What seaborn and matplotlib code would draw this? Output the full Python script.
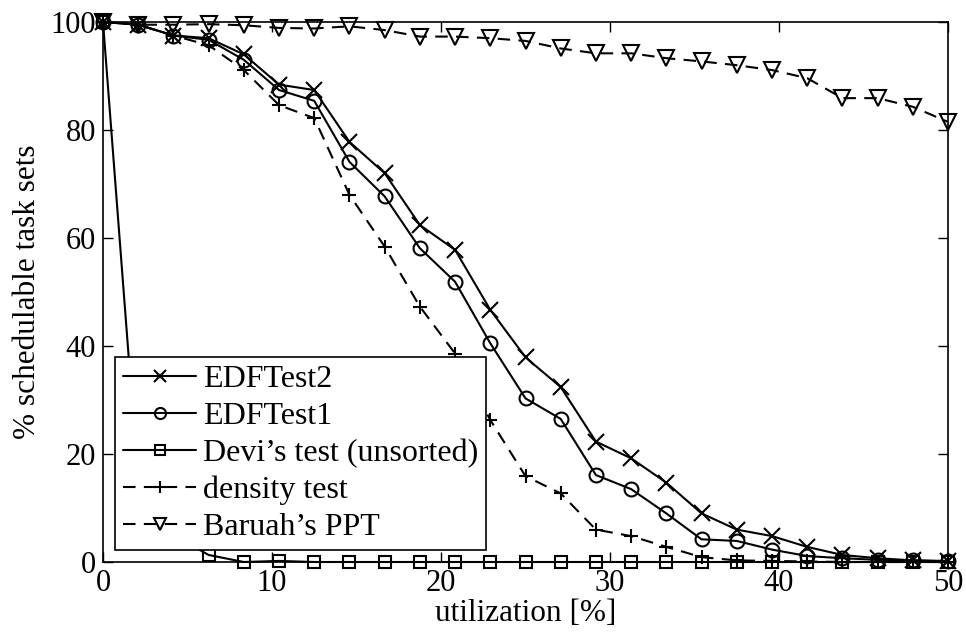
import numpy as np
import pandas as pd
import matplotlib
matplotlib.use("Agg")
import matplotlib.pyplot as plt
import seaborn as sns

utilization = [0, 2.083, 4.167, 6.25, 8.333, 10.417, 12.5, 14.583, 16.667, 18.75,
               20.833, 22.917, 25, 27.083, 29.167, 31.25, 33.333, 35.417, 37.5,
               39.583, 41.667, 43.75, 45.833, 47.917, 50]

edf_test2 = [100, 99.5, 97.5, 97, 94, 88.4, 87.4, 77.8, 72, 62.4,
             57.8, 46.7, 37.9, 32.4, 22.3, 19.2, 14.7, 9.0, 6.0,
             4.8, 2.8, 1.3, 0.7, 0.3, 0.2]
edf_test1 = [100, 99.5, 97.5, 96.7, 93, 87.4, 85.4, 74.1, 67.7, 58.1,
             51.9, 40.5, 30.3, 26.5, 16.1, 13.5, 9.0, 4.2, 3.9,
             2.3, 1.1, 0.7, 0.4, 0.3, 0.1]
devi_test = [100, 15, 5, 1.3, 0, 0.2, 0, 0, 0, 0,
             0, 0, 0, 0, 0, 0, 0, 0, 0,
             0, 0, 0, 0, 0, 0]
density_test = [100, 99.5, 97.5, 95.7, 91.1, 84.6, 82.2, 68, 58.4, 47.3,
                38.6, 26.3, 15.9, 12.7, 6.0, 4.8, 2.8, 0.9, 0.3,
                0.2, 0.1, 0, 0, 0, 0]
baruah_ppt = [100, 99.5, 99.5, 99.6, 99.4, 98.9, 98.8, 99.2, 98.5, 97.3,
              97.3, 97.0, 96.5, 95.1, 94.2, 94.2, 93.3, 92.7, 92.0,
              91.1, 89.6, 85.9, 85.9, 84.3, 81.5]

labels = ["EDFTest2", "EDFTest1", "Devi\u2019s test (unsorted)", "density test", "Baruah\u2019s PPT"]
series = [edf_test2, edf_test1, devi_test, density_test, baruah_ppt]
markers = ["x", "o", "s", "+", "v"]
dashed = [False, False, False, True, True]

sns.set_style("ticks")
plt.rcParams["font.family"] = ["Liberation Serif", "DejaVu Serif"]
plt.rcParams["text.color"] = "black"
plt.rcParams["axes.labelcolor"] = "black"
plt.rcParams["xtick.color"] = "black"
plt.rcParams["ytick.color"] = "black"
plt.rcParams["xtick.direction"] = "in"
plt.rcParams["ytick.direction"] = "in"
plt.rcParams["xtick.top"] = True
plt.rcParams["ytick.right"] = True

fig = plt.figure(figsize=(9.66, 6.37), dpi=100)
ax = fig.add_axes([103/966, 1 - 562/637, (948-103)/966, (562-22)/637])

for lab, vals, mk, dsh in zip(labels, series, markers, dashed):
    df = pd.DataFrame({"u": utilization, "v": vals})
    ls = (0, (6, 4)) if dsh else "-"
    ms = 11 if mk in ("v", "x") else (10 if mk in ("o", "+") else 9)
    sns.lineplot(data=df, x="u", y="v", ax=ax, color="black", linewidth=1.5,
                 linestyle=ls, marker=mk, markersize=ms, markerfacecolor="none",
                 markeredgecolor="black", markeredgewidth=1.5, label=lab,
                 clip_on=False, zorder=3)

ax.set_xlim(0, 50)
ax.set_ylim(0, 100)
ax.set_xticks([0, 10, 20, 30, 40, 50])
ax.set_yticks([0, 20, 40, 60, 80, 100])
ax.tick_params(labelsize=22, length=7, width=1, colors="black", pad=5)
for s in ax.spines.values():
    s.set_visible(True)
    s.set_linewidth(1.2)
    s.set_color("black")
ax.set_xlabel("utilization [%]", fontsize=22.5, labelpad=1)
ax.set_ylabel("% schedulable task sets", fontsize=22.5, labelpad=6)

leg = ax.legend(loc="lower left", bbox_to_anchor=(0.014, 0.022), borderaxespad=0,
                fontsize=23, frameon=True, fancybox=False, edgecolor="black",
                framealpha=1, handlelength=2.3, handletextpad=0.2,
                labelspacing=0.24, borderpad=0.25, markerscale=0.8)
leg.get_frame().set_linewidth(1.2)
leg.set_zorder(5)

fig.savefig("out.png", dpi=100)
